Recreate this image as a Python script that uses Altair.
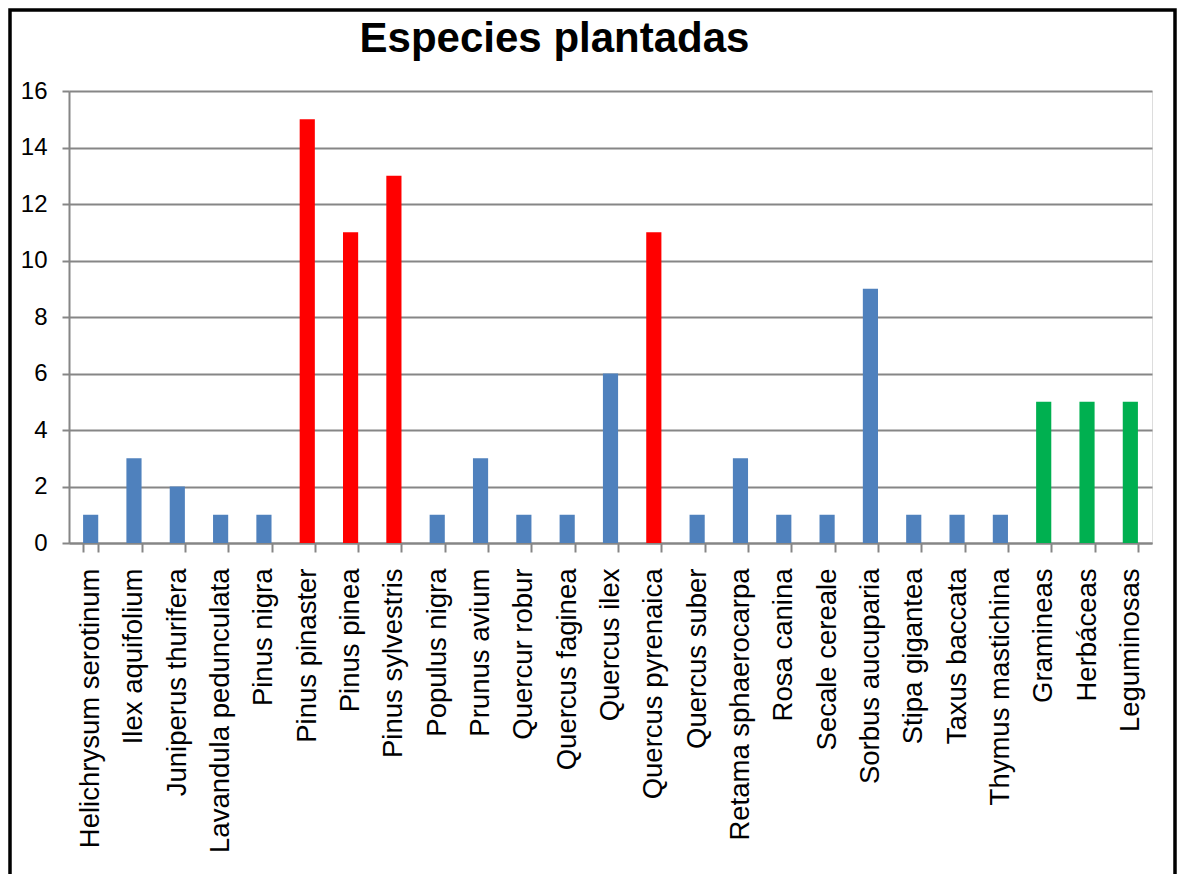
import altair as alt
import pandas as pd

species = [
    "Helichrysum serotinum", "Ilex aquifolium", "Juniperus thurifera",
    "Lavandula pedunculata", "Pinus nigra", "Pinus pinaster", "Pinus pinea",
    "Pinus sylvestris", "Populus nigra", "Prunus avium", "Quercur robur",
    "Quercus faginea", "Quercus ilex", "Quercus pyrenaica", "Quercus suber",
    "Retama sphaerocarpa", "Rosa canina", "Secale cereale", "Sorbus aucuparia",
    "Stipa gigantea", "Taxus baccata", "Thymus mastichina", "Gramineas",
    "Herbáceas", "Leguminosas",
]
counts = [1, 3, 2, 1, 1, 15, 11, 13, 1, 3, 1, 1, 6, 11, 1, 3, 1, 1, 9, 1, 1, 1, 5, 5, 5]
groups = [
    "otras", "otras", "otras", "otras", "otras", "pinos", "pinos", "pinos",
    "otras", "otras", "otras", "otras", "otras", "pinos", "otras", "otras",
    "otras", "otras", "otras", "otras", "otras", "otras", "herbáceas",
    "herbáceas", "herbáceas",
]

group_names = ["otras", "pinos", "herbáceas"]
group_colors = ["#4F81BD", "#FF0000", "#00B050"]
y_ticks = [0, 2, 4, 6, 8, 10, 12, 14, 16]
title_text = "Especies plantadas"

df = pd.DataFrame({"Especie": species, "Cantidad": counts, "Grupo": groups})

FONT = "Liberation Sans"
W, H = 1083, 452
PAD_L, PAD_T = 61, 83
TOTAL_W, TOTAL_H = 1170, 866
PAD_R = TOTAL_W - PAD_L - W
PAD_B = TOTAL_H - PAD_T - H
GRID = "#868686"

bars = alt.Chart(df).mark_bar().encode(
    x=alt.X(
        "Especie:N",
        sort=species,
        scale=alt.Scale(paddingInner=0.65, paddingOuter=0.325),
        axis=alt.Axis(
            title=None, labelAngle=270, labelAlign="right", labelBaseline="middle",
            labelFontSize=27.5, labelFont=FONT, labelColor="black", labelPadding=16,
            labelLimit=0, tickSize=9, tickBand="extent", tickColor=GRID, tickWidth=2,
            domainColor=GRID, domainWidth=2, grid=False,
        ),
    ),
    y=alt.Y(
        "Cantidad:Q",
        scale=alt.Scale(domain=[0, 16], nice=False),
        axis=alt.Axis(
            title=None, values=y_ticks, labelFontSize=24, labelFont=FONT,
            labelColor="black", labelPadding=15, tickSize=7, tickColor=GRID,
            tickWidth=2, domainColor=GRID, domainWidth=2, gridColor=GRID,
            gridWidth=2, gridOpacity=1,
        ),
    ),
    color=alt.Color(
        "Grupo:N",
        scale=alt.Scale(domain=group_names, range=group_colors),
        legend=None,
    ),
)

title = alt.Chart(pd.DataFrame({"t": [title_text]})).mark_text(
    font=FONT, fontSize=42, fontWeight="bold", color="black",
    align="center", baseline="alphabetic",
).encode(
    text="t:N",
    x=alt.value(W / 2 - 56),
    y=alt.value(-39),
)

frame = alt.Chart(pd.DataFrame({"f": [0]})).mark_rect(
    fill=None, stroke="black", strokeWidth=3.5
).encode(
    x=alt.value(-59),
    x2=alt.value(TOTAL_W - PAD_L - 3),
    y=alt.value(-81),
    y2=alt.value(TOTAL_H - PAD_T + 20),
)

chart = alt.layer(bars, title, frame).properties(
    width=W,
    height=H,
    autosize=alt.AutoSizeParams(type="none"),
    padding={"left": PAD_L, "top": PAD_T, "right": PAD_R, "bottom": PAD_B},
).configure_view(stroke=None).configure(background="white")

chart.save("out.html", embed_options={"renderer": "svg", "actions": False})
